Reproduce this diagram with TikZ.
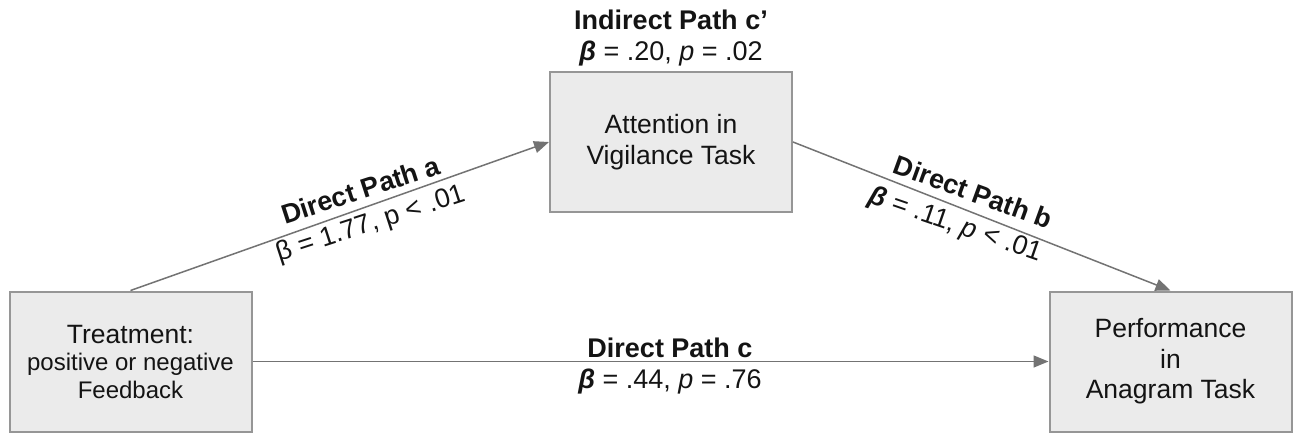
\documentclass[tikz,border=0pt]{standalone}
\usepackage{fontspec}
\setmainfont{Liberation Sans}
\usetikzlibrary{arrows.meta}
\definecolor{boxfill}{RGB}{235,235,235}
\definecolor{boxdraw}{RGB}{150,150,150}
\definecolor{linec}{RGB}{115,115,115}
\definecolor{txt}{RGB}{20,20,20}
\begin{document}
\begin{tikzpicture}[x=1pt,y=-1pt,
  box/.style={draw=boxdraw, line width=2pt, fill=boxfill, minimum width=242pt, minimum height=140pt, inner sep=0pt, align=center, text=txt, font=\fontsize{26.5}{30.5}\selectfont},
  conn/.style={draw=linec, line width=1.5pt, -{Triangle[length=15pt,width=12pt]}},
  lab/.style={font=\fontsize{27}{31}\selectfont, anchor=base, inner sep=0pt, text=txt},
  blab/.style={lab, font=\bfseries\fontsize{27}{31}\selectfont}]
\useasboundingbox (0,0) rectangle (1296,434);
\node[box] (treat) at (130.5,361.5) {Treatment:\\[-3pt]\fontsize{24}{27.5}\selectfont positive or negative\\[-3pt]\fontsize{24}{27.5}\selectfont Feedback};
\node[box] (att) at (671,142) {Attention in\\Vigilance Task};
\node[box] (perf) at (1170.5,361.5) {Performance\\in\\Anagram Task};
\draw[conn] (treat.north) -- (att.west);
\draw[conn] (att.east) -- (perf.north);
\draw[conn] (treat.east) -- (perf.west);
\node[blab] (lc1) at (671,29) {Indirect Path c’};
\node[lab] (lc2) at (671,60) {{\bfseries\itshape β} = .20, \textit{p} = .02};
\node[blab, rotate=18] (la1) at (363.5,199) {Direct Path a};
\node[lab, rotate=18] (la2) at (373,231) {β = 1.77, p < .01};
\node[blab, rotate=-20] (lb1) at (970,201) {Direct Path b};
\node[lab, rotate=-19] (lb2) at (953,232) {{\bfseries\itshape β} = .11, \textit{p} < .01};
\node[blab] (ld1) at (670,357) {Direct Path c};
\node[lab] (ld2) at (670,388) {{\bfseries\itshape β} = .44, \textit{p} = .76};
\end{tikzpicture}
\end{document}
